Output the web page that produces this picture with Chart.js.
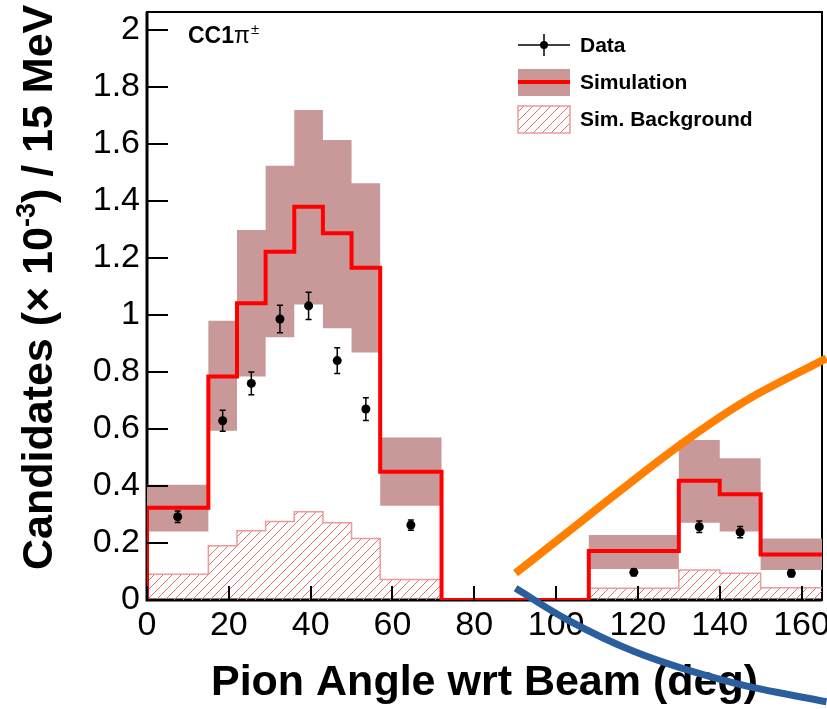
<!DOCTYPE html>
<html>
<head>
<meta charset="utf-8">
<title>Pion angle</title>
<script src="https://cdn.jsdelivr.net/npm/chart.js@4.4.1/dist/chart.umd.min.js"></script>
<style>
  html, body { margin: 0; padding: 0; background: #fff; }
  #wrap { width: 827px; height: 709px; }
</style>
</head>
<body>
<div id="wrap"><canvas id="angleChart" width="827" height="709"></canvas></div>
<script>
// Histogram bin edges (deg)
const binEdges = [0, 15, 22, 29, 36, 43, 50, 57, 72, 108, 130, 140, 150, 165];

// Simulation per bin, with the upper / lower edge of its uncertainty band
const simValues = [0.324, 0.784, 1.041, 1.222, 1.380, 1.287, 1.166, 0.450, 0, 0.172, 0.418, 0.371, 0.160];
const simUpper  = [0.404, 0.980, 1.298, 1.524, 1.719, 1.614, 1.462, 0.570, 0, 0.228, 0.561, 0.497, 0.216];
const simLower  = [0.240, 0.594, 0.784, 0.922, 1.037, 0.953, 0.868, 0.331, 0, 0.109, 0.271, 0.240, 0.105];

// Simulated background per bin
const bkgValues = [0.090, 0.190, 0.243, 0.275, 0.310, 0.271, 0.216, 0.072, 0, 0.041, 0.105, 0.094, 0.043];

// Data points (bin centres), values and statistical errors
const dataAngles = [7.5, 18.5, 25.5, 32.5, 39.5, 46.5, 53.5, 64.5, 119, 135, 145, 157.5];
const dataValues = [0.292, 0.629, 0.760, 0.986, 1.032, 0.840, 0.670, 0.263, 0.097, 0.257, 0.238, 0.094];
const dataErrors = [0.020, 0.037, 0.040, 0.048, 0.048, 0.045, 0.040, 0.018, 0.012, 0.020, 0.020, 0.012];

// Labelled ticks
const xTickLabels = [0, 20, 40, 60, 80, 100, 120, 140, 160];
const yTickLabels = [0, 0.2, 0.4, 0.6, 0.8, 1, 1.2, 1.4, 1.6, 1.8, 2];

// Hand-drawn arcs on top of the plot, in axis units
const arcUpperX = [90.1, 108.1, 129.7, 146.0, 166.1];
const arcUpperY = [0.094, 0.298, 0.538, 0.696, 0.848];
const arcLowerX = [90.1, 102.8, 119.1, 143.6, 166.1];
const arcLowerY = [0.041, -0.070, -0.181, -0.292, -0.357];

const FONT = '"Liberation Sans", Arial, Helvetica, sans-serif';
const BAND = '#c99999';
const RED = '#ff0000';
const HATCH = '#e07272';

// step histogram points: left edge of each bin, plus the last right edge
function steps(values, fromZero) {
  const pts = values.map((v, i) => ({ x: binEdges[i], y: v }));
  pts.push({ x: binEdges[binEdges.length - 1], y: values[values.length - 1] });
  if (fromZero) pts.unshift({ x: binEdges[0], y: 0 });
  return pts;
}

function hatchPattern(color) {
  const c = document.createElement('canvas');
  c.width = c.height = 9;
  const g = c.getContext('2d');
  g.strokeStyle = color;
  g.lineWidth = 1;
  g.beginPath();
  g.moveTo(0, 9); g.lineTo(9, 0);
  g.moveTo(-1, 1); g.lineTo(1, -1);
  g.moveTo(8, 10); g.lineTo(10, 8);
  g.stroke();
  return g.createPattern(c, 'repeat');
}
const hatch = hatchPattern(HATCH);

const isLabelled = (list, v) => list.some(t => Math.abs(t - v) < 1e-6);

// frame, inward ROOT-style ticks, error bars, legend and labels
const rootStyle = {
  id: 'rootStyle',
  beforeDatasetsDraw(chart) {
    const { ctx, chartArea: a } = chart;
    ctx.save();
    ctx.strokeStyle = '#000';
    ctx.lineWidth = 2;
    ctx.strokeRect(a.left, a.top, a.right - a.left, a.bottom - a.top);
    ctx.lineWidth = 3;
    ctx.beginPath();
    ctx.moveTo(a.left, a.top);
    ctx.lineTo(a.left, a.bottom);
    ctx.lineTo(a.right, a.bottom);
    ctx.stroke();
    ctx.restore();
  },
  beforeDatasetDraw(chart, args) {
    if (chart.data.datasets[args.index].label !== 'Data') return;
    const { ctx, scales: { x, y } } = chart;
    ctx.save();
    ctx.strokeStyle = '#000';
    ctx.lineWidth = 1.5;
    dataAngles.forEach((ang, i) => {
      const px = x.getPixelForValue(ang);
      const lo = y.getPixelForValue(dataValues[i] - dataErrors[i]);
      const hi = y.getPixelForValue(dataValues[i] + dataErrors[i]);
      ctx.beginPath();
      ctx.moveTo(px, lo); ctx.lineTo(px, hi);
      ctx.moveTo(px - 3, lo); ctx.lineTo(px + 3, lo);
      ctx.moveTo(px - 3, hi); ctx.lineTo(px + 3, hi);
      ctx.stroke();
    });
    ctx.restore();
  },
  afterDatasetDraw(chart, args) {
    if (chart.data.datasets[args.index].label !== 'Simulation') return;
    const { ctx, chartArea: a, scales: { x, y } } = chart;
    ctx.save();
    ctx.strokeStyle = '#000';
    ctx.lineWidth = 2;
    ctx.beginPath();
    y.ticks.forEach(t => {
      const py = Math.round(y.getPixelForValue(t.value));
      const len = t.label != null ? 21 : 10;
      ctx.moveTo(a.left, py); ctx.lineTo(a.left + len, py);
    });
    x.ticks.forEach(t => {
      const px = Math.round(x.getPixelForValue(t.value));
      const len = t.label != null ? 14 : 7;
      ctx.moveTo(px, a.bottom); ctx.lineTo(px, a.bottom - len);
    });
    ctx.stroke();
    ctx.restore();
  },
  afterDatasetsDraw(chart) {
    const { ctx, chartArea: a } = chart;
    const ds = chart.data.datasets;
    const find = name => ds.find(d => d.label === name);
    const lx = a.left + 371, bw = 52;
    ctx.save();

    // legend: Data
    const dataSet = find('Data');
    let yy = a.top + 33;
    ctx.strokeStyle = dataSet.pointBorderColor;
    ctx.lineWidth = 1.5;
    ctx.beginPath();
    ctx.moveTo(lx, yy); ctx.lineTo(lx + bw, yy);
    ctx.moveTo(lx + bw / 2, yy - 11); ctx.lineTo(lx + bw / 2, yy + 11);
    ctx.stroke();
    ctx.fillStyle = dataSet.pointBackgroundColor;
    ctx.beginPath();
    ctx.arc(lx + bw / 2, yy, 4, 0, Math.PI * 2);
    ctx.fill();

    // legend: Simulation
    yy = a.top + 70;
    ctx.fillStyle = find('simLower').backgroundColor;
    ctx.fillRect(lx, yy - 13, bw, 27);
    ctx.strokeStyle = find('Simulation').borderColor;
    ctx.lineWidth = 4;
    ctx.beginPath();
    ctx.moveTo(lx, yy); ctx.lineTo(lx + bw, yy);
    ctx.stroke();

    // legend: Sim. Background
    yy = a.top + 107;
    const bkg = find('Sim. Background');
    ctx.fillStyle = bkg.backgroundColor;
    ctx.fillRect(lx, yy - 13, bw, 27);
    ctx.strokeStyle = bkg.borderColor;
    ctx.lineWidth = 1.5;
    ctx.strokeRect(lx, yy - 13, bw, 27);

    ctx.fillStyle = '#000';
    ctx.font = 'bold 21px ' + FONT;
    ctx.textBaseline = 'middle';
    ctx.fillText('Data', lx + 62, a.top + 34);
    ctx.fillText('Simulation', lx + 62, a.top + 71);
    ctx.fillText('Sim. Background', lx + 62, a.top + 108);

    // channel label
    ctx.textBaseline = 'alphabetic';
    ctx.font = 'bold 23px ' + FONT;
    ctx.fillText('CC1', a.left + 41, a.top + 31);
    let w = ctx.measureText('CC1').width;
    ctx.font = '23px ' + FONT;
    ctx.fillText('\u03c0', a.left + 41 + w, a.top + 31);
    w += ctx.measureText('\u03c0').width;
    ctx.font = '15px ' + FONT;
    ctx.fillText('\u00b1', a.left + 42 + w, a.top + 22);
    ctx.restore();
  },
  afterDraw(chart) {
    // y-axis title with a real superscript
    const ctx = chart.ctx;
    const big = 'bold 43px ' + FONT;
    const sup = 'bold 27px ' + FONT;
    ctx.save();
    ctx.translate(52, 570);
    ctx.rotate(-Math.PI / 2);
    ctx.fillStyle = '#000';
    ctx.textBaseline = 'alphabetic';
    let x = 0;
    ctx.font = big;
    ctx.fillText('Candidates (\u00d7 10', x, 0);
    x += ctx.measureText('Candidates (\u00d7 10').width;
    ctx.font = sup;
    ctx.fillText('-3', x, -17);
    x += ctx.measureText('-3').width;
    ctx.font = big;
    ctx.fillText(') / 15 MeV', x, 0);
    ctx.restore();
  }
};

new Chart(document.getElementById('angleChart'), {
  type: 'line',
  data: {
    datasets: [
      {
        label: 'arcUpper',
        data: arcUpperX.map((x, i) => ({ x, y: arcUpperY[i] })),
        borderColor: '#ff8000',
        borderWidth: 8,
        borderCapStyle: 'butt',
        pointRadius: 0,
        cubicInterpolationMode: 'monotone',
        clip: false,
        order: 0
      },
      {
        label: 'arcLower',
        data: arcLowerX.map((x, i) => ({ x, y: arcLowerY[i] })),
        borderColor: '#2b5e9c',
        borderWidth: 7,
        borderCapStyle: 'butt',
        pointRadius: 0,
        cubicInterpolationMode: 'monotone',
        clip: false,
        order: 0
      },
      {
        label: 'Data',
        data: dataAngles.map((x, i) => ({ x, y: dataValues[i] })),
        showLine: false,
        pointRadius: 4.5,
        pointBackgroundColor: '#000',
        pointBorderColor: '#000',
        pointBorderWidth: 0,
        order: 1
      },
      {
        label: 'Simulation',
        data: steps(simValues, true),
        stepped: true,
        borderColor: RED,
        borderWidth: 4,
        borderJoinStyle: 'miter',
        pointRadius: 0,
        fill: false,
        order: 2
      },
      {
        label: 'Sim. Background',
        data: steps(bkgValues, true),
        stepped: true,
        borderColor: '#ec9a9a',
        borderWidth: 1.5,
        backgroundColor: hatch,
        pointRadius: 0,
        fill: 'origin',
        order: 3
      },
      {
        label: 'simUpper',
        data: steps(simUpper),
        stepped: true,
        borderColor: 'transparent',
        borderWidth: 0,
        pointRadius: 0,
        fill: false,
        order: 5
      },
      {
        label: 'simLower',
        data: steps(simLower),
        stepped: true,
        borderColor: 'transparent',
        borderWidth: 0,
        backgroundColor: BAND,
        pointRadius: 0,
        fill: '-1',
        order: 4
      }
    ]
  },
  options: {
    responsive: false,
    animation: false,
    layout: { autoPadding: false, padding: { top: 12, right: 5, left: 0, bottom: 0 } },
    plugins: { legend: { display: false }, tooltip: { enabled: false } },
    scales: {
      x: {
        type: 'linear',
        min: 0,
        max: 165,
        grid: { display: false, drawTicks: false },
        border: { display: false },
        ticks: {
          stepSize: 5,
          autoSkip: false,
          maxRotation: 0,
          includeBounds: false,
          padding: 5,
          color: '#000',
          font: { family: FONT, size: 34 },
          callback: v => isLabelled(xTickLabels, v) ? String(v) : null
        },
        title: {
          display: true,
          text: 'Pion Angle wrt Beam (deg)',
          color: '#000',
          font: { family: FONT, size: 43, weight: 'bold', lineHeight: 1 },
          padding: { top: 0, bottom: 4 }
        },
        afterFit: s => {
          s.height = 109;
          s.paddingLeft = 0;
          s.paddingRight = 0;
        }
      },
      y: {
        min: 0,
        max: 2.063,
        grid: { display: false, drawTicks: false },
        border: { display: false },
        ticks: {
          stepSize: 0.05,
          autoSkip: false,
          includeBounds: false,
          padding: 7,
          color: '#000',
          font: { family: FONT, size: 34 },
          callback: v => isLabelled(yTickLabels, v) ? String(+v.toFixed(1)) : null
        },
        afterFit: s => {
          s.width = 147;
          s.paddingTop = 0;
          s.paddingBottom = 0;
        }
      }
    }
  },
  plugins: [rootStyle]
});
</script>
</body>
</html>
